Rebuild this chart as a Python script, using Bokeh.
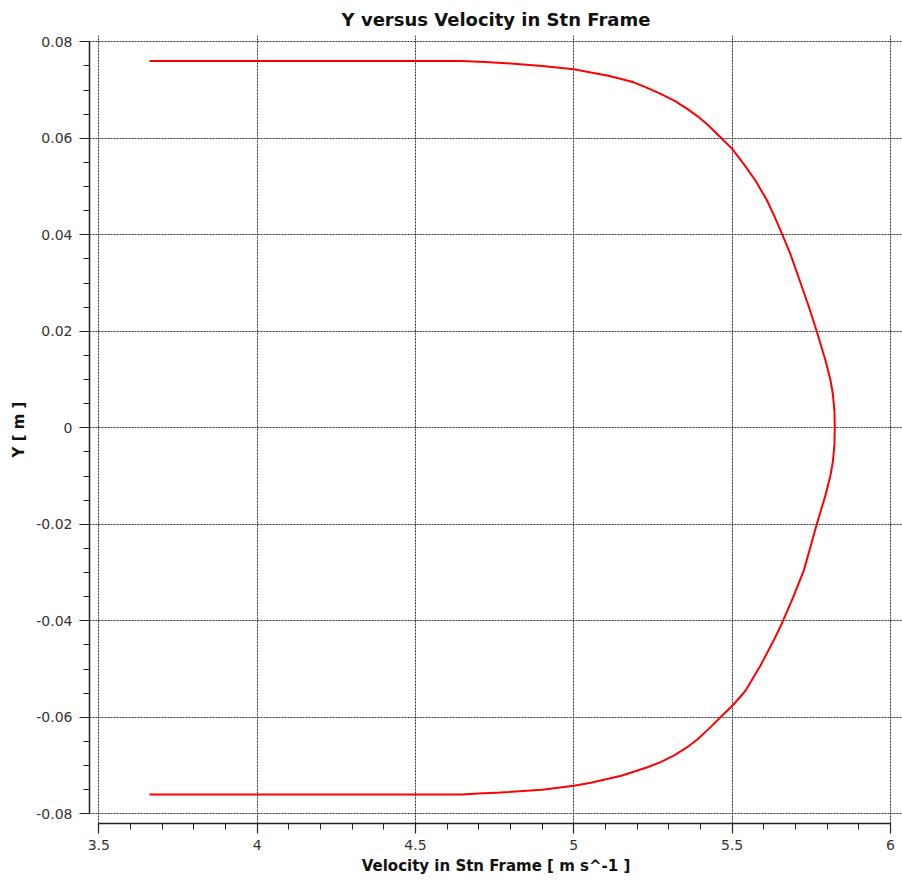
from bokeh.plotting import figure
from bokeh.models import Range1d, SingleIntervalTicker, CustomJSTickFormatter
from bokeh.embed import file_html
from bokeh.resources import INLINE

# Data (velocity [m/s], Y [m])
velocity = [3.660, 4.645, 4.720, 4.800, 4.900, 5.000, 5.050, 5.105, 5.150, 5.189,
            5.230, 5.274, 5.320, 5.358, 5.390, 5.421, 5.463, 5.500, 5.535, 5.574,
            5.611, 5.635, 5.658, 5.684, 5.708, 5.740, 5.768, 5.795, 5.810, 5.818, 5.823, 5.824,
            5.823, 5.818, 5.810, 5.795, 5.768, 5.748, 5.726, 5.692, 5.658, 5.631, 5.589, 5.542,
            5.505, 5.463, 5.426, 5.390, 5.358, 5.320, 5.274, 5.230, 5.189, 5.150, 5.105, 5.050,
            5.000, 4.900, 4.768, 4.700, 4.645, 3.660]
y_pos = [0.0760, 0.0760, 0.0758, 0.0755, 0.0750, 0.0743, 0.0737, 0.0730, 0.0723, 0.0716,
         0.0705, 0.0692, 0.0677, 0.0661, 0.0646, 0.0629, 0.0602, 0.0578, 0.0548, 0.0512,
         0.0470, 0.0436, 0.0401, 0.0360, 0.0315, 0.0255, 0.0198, 0.0139, 0.0100, 0.0070, 0.0035, 0.0,
         -0.0035, -0.0070, -0.0100, -0.0139, -0.0198, -0.0245, -0.0296, -0.0352, -0.0404, -0.0441, -0.0493, -0.0545,
         -0.0573, -0.0600, -0.0624, -0.0646, -0.0662, -0.0678, -0.0693, -0.0704, -0.0713, -0.0721, -0.0728, -0.0736,
         -0.0742, -0.0750, -0.0756, -0.0758, -0.0760, -0.0760]

x_lo, x_hi = 3.5, 6.0
y_lo, y_hi = -0.08, 0.08

FONT = "DejaVu Sans"

p = figure(width=902, height=880, output_backend="svg", toolbar_location=None,
           x_range=Range1d(3.4706, 6.0379), y_range=Range1d(-0.08201, 0.0813),
           min_border_left=89, min_border_right=0, min_border_top=35, min_border_bottom=57,
           title="Y versus Velocity in Stn Frame")
p.outline_line_color = None
p.background_fill_color = "white"
p.border_fill_color = "white"

p.title.align = "center"
p.title.offset = 6
p.title.standoff = 12
p.title.text_font = FONT
p.title.text_font_size = "18px"
p.title.text_font_style = "bold"
p.title.text_color = "#111111"

p.xaxis.ticker = SingleIntervalTicker(interval=0.5, num_minor_ticks=5)
p.yaxis.ticker = SingleIntervalTicker(interval=0.02, num_minor_ticks=4)
fmt = CustomJSTickFormatter(code="return (Math.round(tick*100)/100).toString();")
p.xaxis.formatter = fmt
p.yaxis.formatter = fmt
p.xaxis.bounds = (x_lo, x_hi)
p.yaxis.bounds = (y_lo, y_hi)

for ax in (p.xaxis, p.yaxis):
    ax.axis_line_color = "#222222"
    ax.axis_line_width = 1.5
    ax.major_tick_line_color = "#222222"
    ax.minor_tick_line_color = "#222222"
    ax.major_tick_line_width = 1.2
    ax.minor_tick_line_width = 1
    ax.major_tick_in = 0
    ax.minor_tick_in = 0
    ax.major_tick_out = 10
    ax.minor_tick_out = 6
    ax.major_label_text_font = FONT
    ax.major_label_text_font_size = "14px"
    ax.major_label_text_color = "#333333"
    ax.axis_label_text_font = FONT
    ax.axis_label_text_font_style = "bold"
    ax.axis_label_text_color = "#111111"

p.xaxis.axis_label_text_font_size = "15px"
p.yaxis.axis_label_text_font_size = "15px"
p.yaxis.major_label_standoff = 7
p.xaxis.major_label_standoff = 6
p.xaxis.axis_label_standoff = 4
p.xaxis.axis_label = "Velocity in Stn Frame [ m s^-1 ]"
p.yaxis.axis_label = "Y [ m ]"

for g in (p.xgrid, p.ygrid):
    g.grid_line_color = "#333333"
    g.grid_line_width = 1
    g.grid_line_dash = "2 1"

p.line(velocity, y_pos, line_color="#ff0000", line_width=2)

open("out.html", "w").write(file_html(p, INLINE))
